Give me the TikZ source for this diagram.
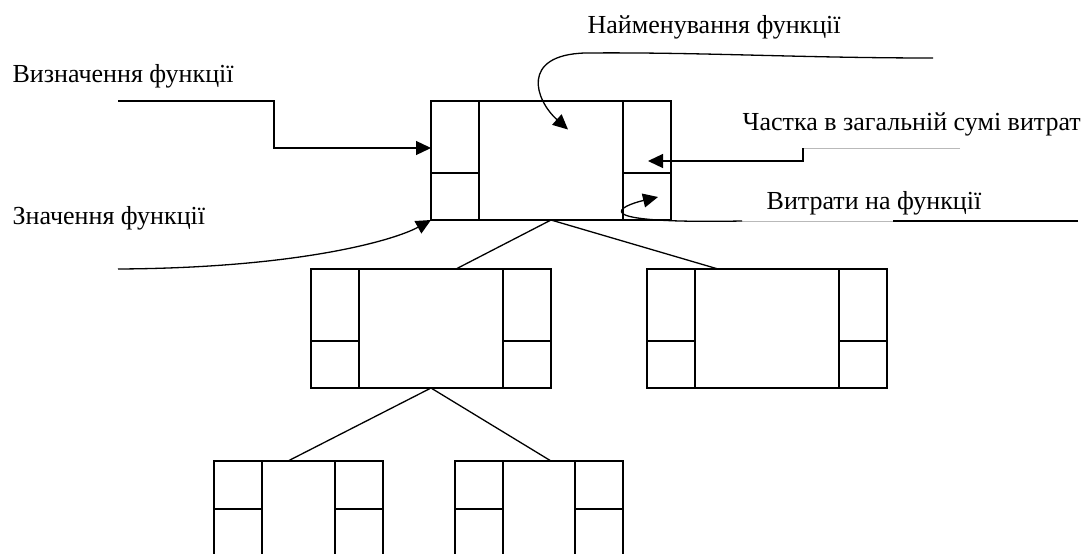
\documentclass[tikz,border=0pt]{standalone}
\usepackage{fontspec}
\setmainfont{Liberation Serif}
\usetikzlibrary{arrows.meta,calc}
% box with two side columns, each split once
\newcommand{\funcbox}[5]{
  \node[funcbox,minimum width=#3,minimum height=#4] (#1) at (#2) {};
  \draw ($(#1.north west)+(48,0)$) -- ($(#1.south west)+(48,0)$);
  \draw ($(#1.north east)+(-48,0)$) -- ($(#1.south east)+(-48,0)$);
  \draw ($(#1.north west)+(0,#5)$) -- ++(48,0);
  \draw ($(#1.north east)+(0,#5)$) -- ++(-48,0);
}

\begin{document}
\begin{tikzpicture}[x=1pt,y=-1pt,line width=1.3pt,>={Triangle[length=15pt,width=14pt]}]
\tikzstyle{funcbox}=[draw,rectangle,inner sep=0pt,outer sep=0pt]
\tikzstyle{lbl}=[anchor=base west,inner sep=0pt,font=\fontsize{26}{30}\selectfont]
\tikzstyle{faint}=[gray!55,line width=0.7pt]
\useasboundingbox (0,0) rectangle (1092,554);
\clip (0,0) rectangle (1092,554);
% boxes
\funcbox{top}{551,160.5}{240pt}{119pt}{72}
\funcbox{midL}{431,328.5}{240pt}{119pt}{72}
\funcbox{midR}{767,328.5}{240pt}{119pt}{72}
\funcbox{botL}{298.5,520.5}{169pt}{119pt}{48}
\funcbox{botR}{539,520.5}{168pt}{119pt}{48}
% tree lines
\draw (top.south) -- ([xshift=25pt]midL.north);
\draw (top.south) -- ([xshift=-49pt]midR.north);
\draw (midL.south) -- ([xshift=-10.5pt]botL.north);
\draw (midL.south) -- ([xshift=12pt]botR.north);
% labels
\node[lbl] (name) at (587,33) {Найменування функції};
\node[lbl] (def) at (12,82) {Визначення функції};
\node[lbl] (val) at (12,224) {Значення функції};
\node[lbl] (share) at (742,130) {Частка в загальній сумі витрат};
\node[lbl] (cost) at (766,209) {Витрати на функції};
% free ends of the arrows
\coordinate (defstart) at (118,101);
\coordinate (valstart) at (118,269);
\coordinate (namestart) at (933,58);
\coordinate (sharestart) at (960,148);
\coordinate (coststart) at (1078,221);
\coordinate (nameend) at ([xshift=17pt,yshift=31pt]top.center);
\coordinate (shareend) at ([xshift=-23pt,yshift=-0.5pt]top.east);
\coordinate (costend) at ([xshift=-13pt,yshift=23pt]top.south east);
% arrows
\draw[->] (defstart) -- ++(156,0) |- ([yshift=12.5pt]top.west);
\draw[->] (valstart) .. controls (300,268) and (395,240) .. (top.south west);
\draw[->] (namestart) .. controls (800,58) and (700,52) .. (585,53)
  .. controls (520,55) and (535,100) .. (nameend);
\draw[faint] (sharestart) -- (803,148);
\draw[->] (803,148) |- (shareend);
\draw (coststart) -- (893,221);
\draw[faint] (893,221) -- (742,221);
\draw[->] (742,221) .. controls (580,224) and (620,206) .. (costend);
\end{tikzpicture}
\end{document}
